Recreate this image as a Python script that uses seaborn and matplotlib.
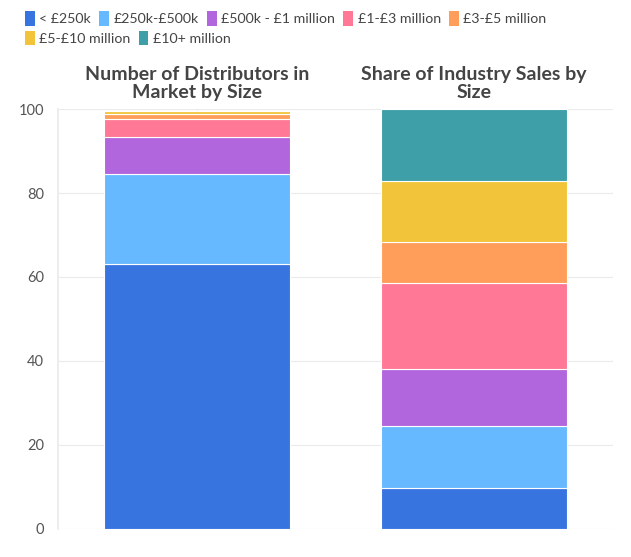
import numpy as np
import pandas as pd
import matplotlib.pyplot as plt
import seaborn as sns
from matplotlib.patches import Patch

# Data (percent)
charts = ['Number of Distributors in\nMarket by Size', 'Share of Industry Sales by\nSize']
bands = ['< £250k', '£250k-£500k', '£500k - £1 million', '£1-£3 million',
         '£3-£5 million', '£5-£10 million', '£10+ million']
distributors = [63.1, 21.5, 8.8, 4.3, 1.1, 0.7, 0.0]
sales = [9.8, 14.7, 13.6, 20.5, 9.7, 14.6, 17.1]
colors = ['#3874E0', '#66B8FF', '#B266DD', '#FF7896', '#FF9E5A', '#F2C43A', '#3E9FA8']

df = pd.DataFrame({'band': bands, charts[0]: distributors, charts[1]: sales})

sns.set_theme(style='white')
plt.rcParams['font.family'] = ['Lato', 'DejaVu Sans']

fig = plt.figure(figsize=(6.31, 5.57), dpi=100)
ax = fig.add_axes([0.092, 0.0503, 0.879, 0.754])

# stacked bars, one barplot call per size band
bottom = np.zeros(len(charts))
for i, band in enumerate(bands):
    vals = df.loc[i, charts].values.astype(float)
    sns.barplot(x=charts, y=vals, color=colors[i], saturation=1, width=0.67,
                bottom=bottom, edgecolor='white', linewidth=0.8, ax=ax, zorder=3)
    bottom += vals

ax.set_ylim(0, 100)
ax.set_xlim(-0.5, 1.5)
ax.set_yticks([0, 20, 40, 60, 80, 100])
ax.tick_params(axis='y', labelsize=10.5, labelcolor='#555555', length=0, pad=10)
ax.xaxis.set_ticks_position('top')
ax.tick_params(axis='x', length=0, pad=6)
ax.set_xticks([0, 1])
ax.set_xticklabels(charts, fontsize=14, fontweight='bold', color='#444444',
                   multialignment='center', linespacing=1.05)
ax.grid(True, color='#EBEBEB', linewidth=0.8, zorder=0)
for s in ['top', 'right', 'bottom']:
    ax.spines[s].set_visible(False)
ax.spines['left'].set_color('#EBEBEB')
ax.set_xlabel('')
ax.set_ylabel('')

# legend in two rows, top-left
handles = [Patch(facecolor=c, edgecolor='none') for c in colors]
leg_kw = dict(frameon=False, fontsize=10.2, handlelength=0.7, handleheight=1.2,
              handletextpad=0.3, columnspacing=0.6, borderaxespad=0,
              labelcolor='#444444')
fig.legend(handles[:5], bands[:5], ncol=5, loc='upper left',
           bbox_to_anchor=(0.03, 0.99), **leg_kw)
fig.legend(handles[5:], bands[5:], ncol=2, loc='upper left',
           bbox_to_anchor=(0.03, 0.955), **leg_kw)

fig.savefig('out.png', dpi=100, facecolor='white')
